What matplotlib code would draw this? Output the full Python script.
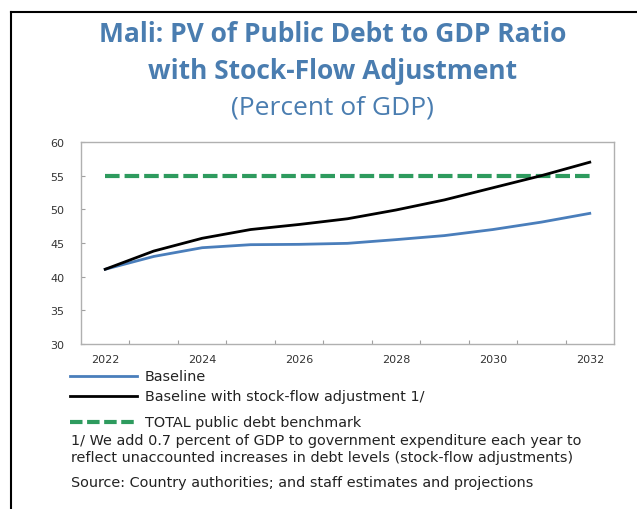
import matplotlib
matplotlib.use("Agg")
import matplotlib.pyplot as plt
from matplotlib.lines import Line2D

years = list(range(2022, 2033))
baseline = [41.1, 43.0, 44.3, 44.75, 44.8, 44.95, 45.5, 46.1, 47.0, 48.1, 49.4]
baseline_sfa = [41.1, 43.8, 45.7, 47.0, 47.75, 48.6, 49.9, 51.4, 53.2, 55.0, 57.0]
benchmark = [55] * len(years)

title_color = "#4A7DB0"
blue = "#4A7EBB"
green = "#2E9B5E"
W, H = 637, 510

fig = plt.figure(figsize=(W / 100, H / 100), dpi=100)
ax = fig.add_axes([81 / W, 1 - 345 / H, (614 - 81) / W, (345 - 143) / H])

ax.plot(years, benchmark, color=green, lw=3, dashes=(3.5, 1.2))
ax.plot(years, baseline, color=blue, lw=2)
ax.plot(years, baseline_sfa, color="black", lw=2)

ax.set_xlim(2021.5, 2032.5)
ax.set_ylim(30, 60)
ax.set_yticks(range(30, 61, 5))
# tick marks sit between the yearly categories, labels on every other year
ax.set_xticks([y + 0.5 for y in years[:-1]])
ax.set_xticklabels([])
ax.set_xticks(years[::2], minor=True)
ax.set_xticklabels([str(y) for y in years[::2]], minor=True)
ax.tick_params(axis="x", which="major", direction="in", length=3, color="#a0a0a0")
ax.tick_params(axis="x", which="minor", length=0, pad=7, labelsize=8, labelcolor="#333333")
ax.tick_params(axis="y", direction="in", length=3, color="#a0a0a0", pad=12,
               labelsize=8, labelcolor="#333333")
for s in ax.spines.values():
    s.set_color("#b0b0b0")
    s.set_linewidth(1)

title_font = ["Liberation Sans Narrow", "Open Sans", "DejaVu Sans"]
fig.text(0.522, 1 - 35 / H, "Mali: PV of Public Debt to GDP Ratio", ha="center", va="center",
         fontsize=19, fontweight="bold", color=title_color, family=title_font)
fig.text(0.522, 1 - 72 / H, "with Stock-Flow Adjustment", ha="center", va="center",
         fontsize=19, fontweight="bold", color=title_color, family=title_font)
fig.text(0.522, 1 - 108 / H, "(Percent of GDP)", ha="center", va="center",
         fontsize=19, color=title_color, family=title_font)

# legend entries under the plot
entries = [
    (377, blue, "-", 2, "Baseline"),
    (397, "black", "-", 2, "Baseline with stock-flow adjustment 1/"),
    (423, green, "--", 3, "TOTAL public debt benchmark"),
]
text_size = 10.4
for y, c, ls, lw, label in entries:
    ln = Line2D([70 / W, 137 / W], [1 - y / H, 1 - y / H], color=c, lw=lw, transform=fig.transFigure)
    if ls == "--":
        ln.set_dashes((3.0, 1.1))
    fig.add_artist(ln)
    fig.text(145 / W, 1 - y / H, label, va="center", fontsize=text_size, color="#222222")

fig.text(71 / W, 1 - 441 / H,
         "1/ We add 0.7 percent of GDP to government expenditure each year to",
         va="center", fontsize=text_size, color="#222222")
fig.text(71 / W, 1 - 458 / H,
         "reflect unaccounted increases in debt levels (stock-flow adjustments)",
         va="center", fontsize=text_size, color="#222222")
fig.text(71 / W, 1 - 483 / H, "Source: Country authorities; and staff estimates and projections",
         va="center", fontsize=text_size, color="#222222")

# outer frame (top and left edges)
fig.add_artist(Line2D([10.7 / W, 1], [1 - 13 / H, 1 - 13 / H], color="black", lw=1.5,
                      transform=fig.transFigure))
fig.add_artist(Line2D([10.7 / W, 10.7 / W], [0, 1 - 13 / H], color="black", lw=1.5,
                      transform=fig.transFigure))

fig.savefig("out.png", dpi=100)
